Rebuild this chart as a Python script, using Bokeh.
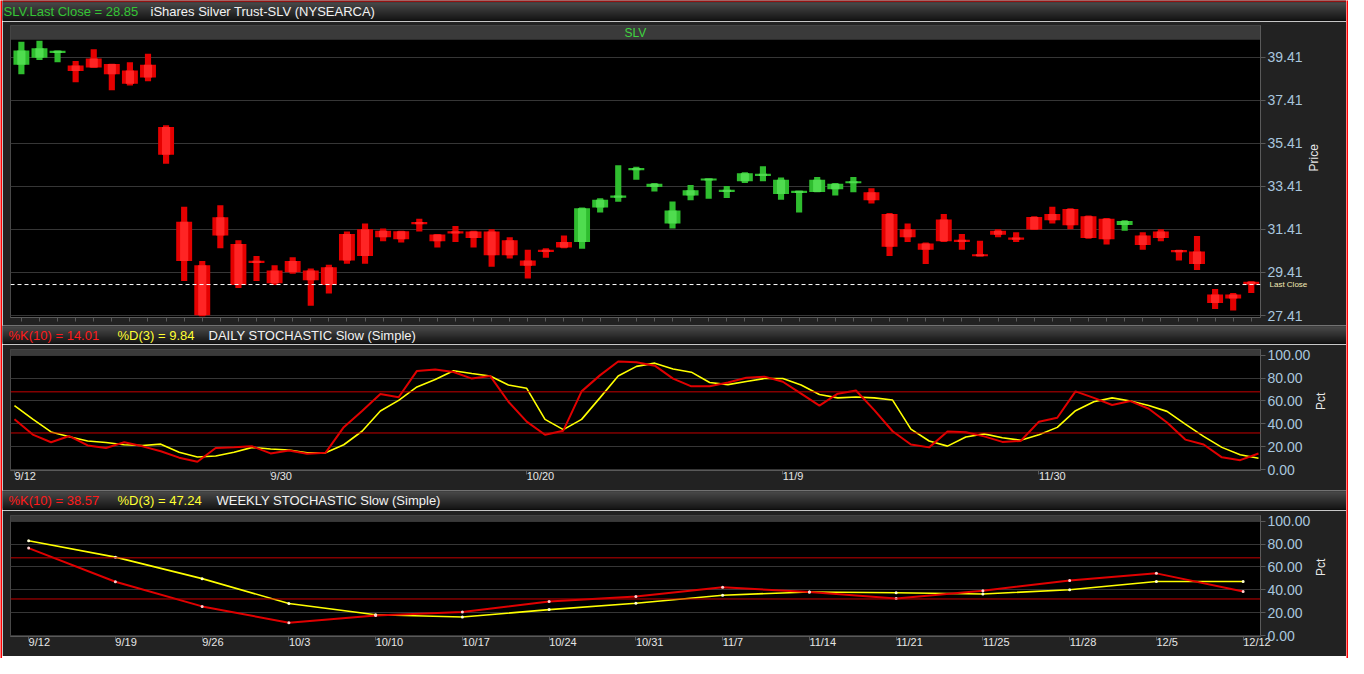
import math
from bokeh.plotting import figure
from bokeh.layouts import column, row
from bokeh.models import (FixedTicker, Range1d, BoxAnnotation, Span, Label, LinearAxis,
                          ColumnDataSource, NumeralTickFormatter)
from bokeh.embed import file_html
from bokeh.resources import INLINE
from bokeh.core.properties import value

FONT = "Liberation Sans"

# ---------------- data ----------------
daily_dates = ["9/12", "9/13", "9/14", "9/15", "9/16", "9/19", "9/20", "9/21", "9/22", "9/23",
               "9/26", "9/27", "9/28", "9/29", "9/30", "10/3", "10/4", "10/5", "10/6", "10/7",
               "10/10", "10/11", "10/12", "10/13", "10/14", "10/17", "10/18", "10/19", "10/20", "10/21",
               "10/24", "10/25", "10/26", "10/27", "10/28", "10/31", "11/1", "11/2", "11/3", "11/4",
               "11/7", "11/8", "11/9", "11/10", "11/11", "11/14", "11/15", "11/16", "11/17", "11/18",
               "11/21", "11/22", "11/23", "11/25", "11/28", "11/29", "11/30", "12/1", "12/2",
               "12/5", "12/6", "12/7", "12/8", "12/9", "12/12", "12/13", "12/14", "12/15", "12/16"]

opens = [39.05, 39.38, 39.60, 39.02, 39.35, 39.09, 38.79, 39.05, 36.17, 31.77,
         29.75, 31.97, 30.73, 29.95, 29.50, 29.94, 29.50, 29.65, 31.20, 31.42,
         31.35, 31.32, 31.75, 31.17, 31.32, 31.31, 31.31, 30.91, 29.97, 30.46,
         30.83, 30.83, 32.43, 32.88, 34.16, 33.38, 31.69, 32.98, 33.68, 33.15,
         33.65, 33.89, 33.05, 33.10, 33.15, 33.27, 33.55, 33.13, 32.12, 31.42,
         30.76, 31.87, 30.93, 30.26, 31.35, 31.03, 31.99, 32.13, 32.36, 32.02,
         31.91, 31.62, 31.13, 31.31, 30.45, 30.39, 28.39, 28.39, 28.98]
highs = [40.12, 40.17, 39.72, 39.23, 39.77, 39.10, 39.17, 39.57, 36.24, 32.46,
         29.94, 32.53, 30.91, 30.17, 29.75, 30.12, 29.60, 29.77, 31.31, 31.69,
         31.45, 31.35, 31.90, 31.20, 31.57, 31.35, 31.42, 31.05, 30.46, 30.53,
         31.13, 32.43, 32.86, 34.39, 34.32, 33.57, 32.71, 33.47, 33.77, 33.42,
         34.06, 34.34, 33.82, 33.20, 33.84, 33.57, 33.84, 33.32, 32.17, 31.68,
         30.80, 32.12, 31.20, 30.88, 31.42, 31.28, 32.02, 32.46, 32.39, 32.05,
         31.94, 31.84, 31.28, 31.42, 30.46, 31.10, 28.64, 28.46, 29.00]
lows = [38.61, 39.28, 39.17, 38.24, 38.91, 37.87, 38.09, 38.29, 34.46, 29.01,
        27.38, 30.53, 28.69, 29.01, 28.83, 29.35, 27.87, 28.43, 29.82, 29.82,
        30.86, 30.80, 31.31, 30.57, 30.83, 30.57, 29.68, 30.06, 29.13, 30.09,
        30.53, 30.51, 32.20, 32.69, 33.72, 33.17, 31.45, 32.76, 32.83, 32.87,
        33.57, 33.65, 32.79, 32.20, 33.13, 32.98, 33.13, 32.61, 30.17, 30.83,
        29.80, 30.83, 30.46, 30.15, 31.05, 30.83, 31.38, 31.69, 31.42, 30.98,
        30.71, 31.35, 30.46, 30.86, 29.97, 29.53, 27.72, 27.65, 28.46]
closes = [39.72, 39.82, 39.70, 38.76, 38.93, 38.61, 38.17, 38.46, 34.88, 29.94,
          27.42, 31.13, 28.83, 29.85, 28.91, 29.42, 29.05, 28.83, 29.97, 30.17,
          31.05, 30.95, 31.65, 30.86, 31.22, 31.01, 30.21, 30.21, 29.72, 30.36,
          30.57, 32.39, 32.79, 32.98, 34.26, 33.53, 32.29, 33.23, 33.77, 33.25,
          34.02, 33.99, 33.72, 33.20, 33.72, 33.53, 33.65, 32.76, 30.61, 31.05,
          30.46, 30.86, 30.83, 30.16, 31.16, 30.93, 31.40, 31.84, 31.60, 31.01,
          30.95, 31.80, 30.69, 31.01, 30.35, 29.80, 27.99, 28.20, 28.85]

daily_k = [44.1, 30.6, 23.9, 29.3, 21.1, 18.8, 23.9, 20.3, 16.0, 10.4,
           6.8, 18.8, 19.4, 20.3, 14.1, 16.6, 13.8, 14.6, 37.1, 51.2,
           66.1, 63.3, 86.3, 87.6, 85.3, 79.6, 81.9, 59.3, 41.9, 30.4,
           34.0, 68.4, 82.4, 94.5, 93.9, 90.9, 79.6, 72.8, 72.8, 76.2,
           80.4, 81.3, 76.8, 66.4, 56.0, 66.4, 69.2, 52.0, 33.5, 21.9,
           19.4, 33.2, 32.6, 29.0, 24.2, 25.0, 41.9, 45.3, 68.4, 62.7,
           56.5, 59.9, 53.2, 41.1, 26.2, 21.9, 10.7, 8.2, 14.01]
daily_d = [56.0, 44.1, 32.9, 28.7, 25.0, 23.6, 21.7, 21.1, 22.2, 15.2,
           11.0, 11.8, 15.2, 19.4, 18.0, 17.1, 14.6, 14.6, 21.7, 33.5,
           51.2, 60.5, 72.3, 78.8, 86.5, 84.1, 81.9, 74.0, 71.1, 43.9,
           34.9, 43.9, 62.7, 81.9, 90.3, 93.1, 88.0, 85.2, 76.2, 74.3,
           77.0, 79.6, 79.6, 74.0, 65.6, 62.7, 63.5, 62.7, 60.8, 35.4,
           25.0, 20.5, 28.4, 31.2, 27.8, 25.6, 30.4, 36.9, 51.5, 59.3,
           62.7, 59.9, 56.0, 50.9, 39.7, 29.0, 19.4, 12.9, 9.84]

weekly_dates = ["9/12", "9/19", "9/26", "10/3", "10/10", "10/17", "10/24", "10/31",
                "11/7", "11/14", "11/21", "11/25", "11/28", "12/5", "12/12"]
weekly_k = [76.5, 47.1, 25.5, 11.2, 17.6, 20.7, 29.7, 34.2, 42.3, 38.1, 32.5, 39.2, 48.2, 54.4, 38.57]
weekly_d = [82.9, 68.6, 49.8, 28.0, 18.2, 16.2, 22.7, 28.3, 35.3, 38.1, 37.5, 36.4, 40.1, 47.3, 47.24]

price_ticks = [27.41, 29.41, 31.41, 33.41, 35.41, 37.41, 39.41]
pct_ticks = [0, 20, 40, 60, 80, 100]
daily_label_idx = [0, 14, 28, 42, 56]
last_close = 28.85
stoch_hi, stoch_lo = 68, 32

# ---------------- styling ----------------
INNER_W = 1344
BORDER_BG = "#222222"
GRID = "#363636"
AXIS_C = "#5a5a5a"
TICK_LABEL_C = "#a9c6de"
UP_C, UP_HI = "#2fbd2f", "#4fdc4f"
DN_C, DN_HI = "#e40000", "#ff2424"
K_C = "#e00000"
D_C = "#ffff00"


def blank_fig(w, h, bg):
    f = figure(width=w, height=h, x_range=Range1d(0, w), y_range=Range1d(0, h),
               x_axis_location=None, y_axis_location=None, toolbar_location=None,
               output_backend="svg", min_border=0, frame_align=False)
    f.background_fill_color = bg
    f.border_fill_color = bg
    f.outline_line_color = None
    f.grid.visible = False
    return f


def header(h, pieces, text_y, red_top=False):
    f = blank_fig(INNER_W, h, "#0e0e0e")
    off = 1 if red_top else 0
    n = h - 2 - off
    tops, bots, cols = [], [], []
    c0, c1 = 0x62, 0x1c
    for k in range(n):
        t = k / max(n - 1, 1)
        g = int(c0 + (c1 - c0) * t)
        if k == 0:
            g = 0x3a
        top = h - off - k
        tops.append(top)
        bots.append(top - 1)
        cols.append("#%02x%02x%02x" % (g, g, g))
    f.quad(left=0, right=INNER_W, top=tops, bottom=bots, color=cols, line_color=None)
    if red_top:
        f.quad(left=0, right=INNER_W, top=h, bottom=h - 1, color="red", line_color=None)
    for (x, txt, col) in pieces:
        f.text(x=[x], y=[text_y], text=[txt], text_color=col, text_font=value(FONT),
               text_font_size="13px", text_baseline="middle", text_align="left")
    return f


def style_right_axis(ax, label):
    ax.axis_line_color = AXIS_C
    ax.major_tick_line_color = AXIS_C
    ax.major_tick_out = 5
    ax.major_tick_in = 0
    ax.minor_tick_line_color = None
    ax.major_label_text_color = TICK_LABEL_C
    ax.major_label_text_font = FONT
    ax.major_label_text_font_size = "14px"
    ax.major_label_standoff = 2
    ax.formatter = NumeralTickFormatter(format="0.00")
    ax.axis_label = label
    ax.axis_label_text_color = "#e8e8e8"
    ax.axis_label_text_font = FONT
    ax.axis_label_text_font_size = "12px"
    ax.axis_label_text_font_style = "normal"
    ax.axis_label_standoff = 8
    try:
        ax.axis_label_orientation = math.pi / 2
    except AttributeError:
        pass


def style_bottom_axis(ax):
    ax.axis_line_color = AXIS_C
    ax.major_tick_line_color = AXIS_C
    ax.major_tick_out = 4
    ax.major_tick_in = 0
    ax.minor_tick_line_color = None
    ax.major_label_text_color = "#e6e6e6"
    ax.major_label_text_font = FONT
    ax.major_label_text_font_size = "11px"
    ax.major_label_standoff = 1
    ax.major_label_orientation = -0.000001


# ---------------- headers ----------------
hdr1 = header(21, [(1, "SLV.Last Close = 28.85", "#35c435"),
                   (148, "iShares Silver Trust-SLV (NYSEARCA)", "#f2f2f2")], 10.0, red_top=True)
hdr2 = header(19, [(6, "%%K(10) = %.2f" % daily_k[-1], "#ff1a1a"),
                   (115, "%%D(3) = %.2f" % daily_d[-1], "#ffff33"),
                   (206, "DAILY STOCHASTIC Slow (Simple)", "#f2f2f2")], 9.5)
hdr3 = header(20, [(6, "%%K(10) = %.2f" % weekly_k[-1], "#ff1a1a"),
                   (115, "%%D(3) = %.2f" % weekly_d[-1], "#ffff33"),
                   (214, "WEEKLY STOCHASTIC Slow (Simple)", "#f2f2f2")], 10.0)

# ---------------- price panel ----------------
idx = list(range(len(closes)))
p = figure(width=INNER_W, height=304, x_range=Range1d(-0.602, 68.51),
           y_range=Range1d(27.32, 40.877), y_axis_location="right",
           toolbar_location=None, output_backend="svg",
           min_border_left=8, min_border_right=86, min_border_top=4, min_border_bottom=8)
p.background_fill_color = "black"
p.border_fill_color = BORDER_BG
p.outline_line_color = None
p.xgrid.visible = False
p.ygrid.grid_line_color = GRID
p.yaxis.ticker = FixedTicker(ticks=price_ticks)
style_right_axis(p.yaxis[0], "Price")
p.xaxis.ticker = FixedTicker(ticks=idx)
style_bottom_axis(p.xaxis[0])
p.xaxis.major_label_orientation = "horizontal"
p.xaxis.major_label_overrides = {i: "" for i in idx}
p.xaxis.major_label_text_font_size = "0px"
p.xaxis.major_label_standoff = 0

# "Last Close" tag drawn as an outer right axis pulled back next to the frame
lc_axis = LinearAxis(ticker=FixedTicker(ticks=[last_close]),
                     major_label_overrides={last_close: "Last Close"},
                     axis_line_color=None, major_tick_line_color=None,
                     major_tick_out=0, major_tick_in=0, minor_tick_line_color=None,
                     major_label_text_font=FONT, major_label_text_font_size="8px",
                     major_label_text_color="#f3e9b5", major_label_standoff=-61)
p.add_layout(lc_axis, "right")

p.add_layout(BoxAnnotation(bottom=40.21, fill_color="#3a3a3a", fill_alpha=1,
                           line_color=None, level="underlay"))
p.add_layout(Label(x=33.95, y=40.54, text="SLV", text_color="#3fd43f",
                   text_font=FONT, text_font_size="12px",
                   text_align="center", text_baseline="middle"))

up = [c >= o for o, c in zip(opens, closes)]
src = ColumnDataSource(dict(
    x=idx, h=highs, l=lows,
    bt=[max(a, b) for a, b in zip(opens, closes)],
    bb=[min(a, b) for a, b in zip(opens, closes)],
    col=[UP_C if u else DN_C for u in up],
    hi=[UP_HI if u else DN_HI for u in up],
))
p.vbar(x="x", bottom="l", top="h", width=0.34, source=src, fill_color="col", line_color=None)
p.vbar(x="x", bottom="bb", top="bt", width=0.88, source=src, fill_color="col", line_color=None)
p.vbar(x="x", bottom="bb", top="bt", width=0.45, source=src, fill_color="hi", line_color=None)

p.add_layout(Span(location=last_close, dimension="width", line_color="white",
                  line_dash="4 3", line_width=1))

# ---------------- stochastic panels ----------------
def stoch_fig(h, xr):
    f = figure(width=INNER_W, height=h, x_range=xr, y_range=Range1d(-0.84, 105.04),
               y_axis_location="right", toolbar_location=None, output_backend="svg",
               min_border_left=8, min_border_right=86, min_border_top=5,
               min_border_bottom=18)
    f.background_fill_color = "black"
    f.border_fill_color = BORDER_BG
    f.outline_line_color = None
    f.xgrid.visible = False
    f.ygrid.grid_line_color = GRID
    f.yaxis.ticker = FixedTicker(ticks=pct_ticks)
    style_right_axis(f.yaxis[0], "Pct")
    style_bottom_axis(f.xaxis[0])
    f.add_layout(BoxAnnotation(bottom=100.3, fill_color="#3a3a3a", fill_alpha=1,
                               line_color=None, level="underlay"))
    for lv in (stoch_hi, stoch_lo):
        f.add_layout(Span(location=lv, dimension="width", line_color="#c40000", line_width=1))
    return f


d = stoch_fig(146, Range1d(-0.217, 68.11))
d.xaxis.ticker = FixedTicker(ticks=daily_label_idx)
d.xaxis.major_label_overrides = {i: daily_dates[i] for i in daily_label_idx}
d.line(idx, daily_d, line_color=D_C, line_width=1.6)
d.line(idx, daily_k, line_color=K_C, line_width=2)

widx = list(range(len(weekly_dates)))
w = stoch_fig(146, Range1d(-0.209, 14.2))
w.xaxis.ticker = FixedTicker(ticks=widx)
w.xaxis.major_label_overrides = {i: weekly_dates[i] for i in widx}
w.line(widx, weekly_d, line_color=D_C, line_width=1.6)
w.line(widx, weekly_k, line_color=K_C, line_width=2)
w.scatter(widx, weekly_d, size=3, fill_color="#ffffd0", line_color=None)
w.scatter(widx, weekly_k, size=3, fill_color="#ffd0d0", line_color=None)

# ---------------- red frame ----------------
red_l = blank_fig(2, 658, "red")
red_r = blank_fig(2, 658, "red")
red_b = blank_fig(INNER_W, 2, "red")

layout = row(red_l, column(hdr1, p, hdr2, d, hdr3, w, red_b), red_r)

open("out.html", "w").write(file_html(layout, INLINE))
